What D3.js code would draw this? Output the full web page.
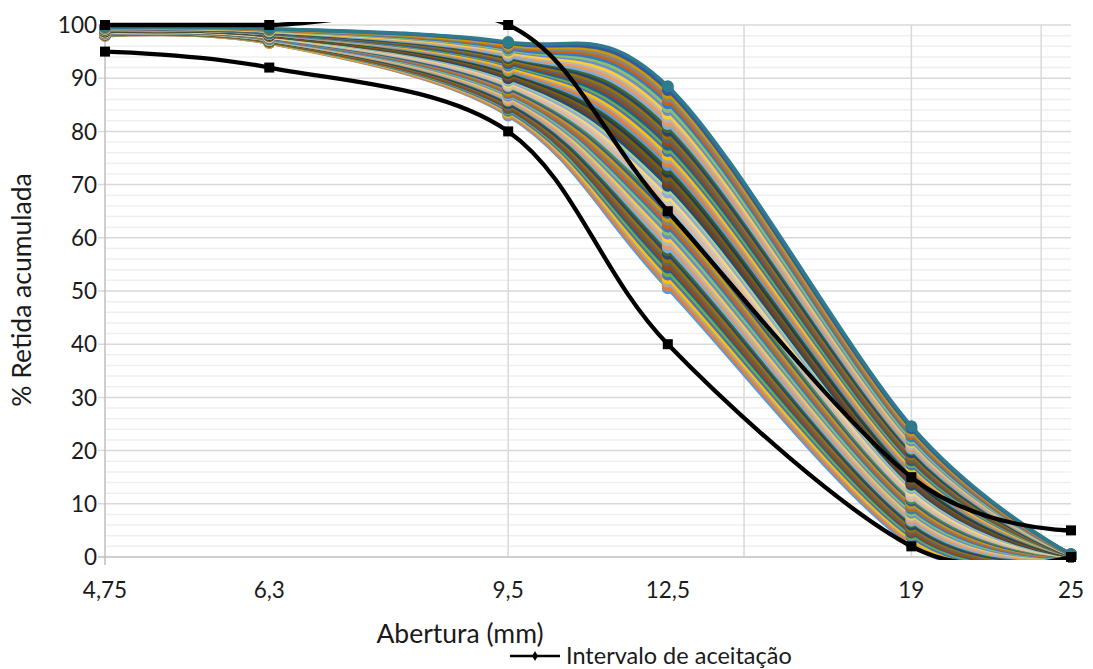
<!DOCTYPE html>
<html><head><meta charset="utf-8">
<script src="https://cdn.jsdelivr.net/npm/d3@7"></script>
<style>
html,body{margin:0;padding:0;background:#fff;}
svg{display:block;font-family:Lato,"Open Sans",sans-serif;}
</style></head>
<body><svg id="chart" width="1093" height="669"></svg>
<script>
// Sieve openings (mm) and tick labels
const sieves = [4.75, 6.3, 9.5, 12.5, 19, 25];
const xTickLabels = ["4,75", "6,3", "9,5", "12,5", "19", "25"];
const yTicks = [0,10,20,30,40,50,60,70,80,90,100];

// Acceptance interval (black curves)
const limitUpper = [100, 100, 100, 65, 15, 5];
const limitLower = [95, 92, 80, 40, 2, 0];

// Simulated gradings: % retained at each sieve, one entry per curve (low -> high)
const pass475 = [98.0,98.0,98.1,98.1,98.1,98.1,98.2,98.2,98.2,98.2,98.3,98.3,98.3,98.4,98.4,98.4,98.4,98.5,98.5,98.5,
  98.5,98.6,98.6,98.6,98.6,98.7,98.7,98.7,98.8,98.8,98.8,98.8,98.9,98.9,98.9,98.9,99.0,99.0,99.0,99.0,
  99.1,99.1,99.1,99.2,99.2,99.2,99.2,99.3,99.3,99.3,99.3,99.4,99.4,99.4,99.5,99.5,99.5,99.5,99.6,99.6];
const pass63 = [96.6,96.6,96.7,96.7,96.8,96.8,96.9,96.9,97.0,97.0,97.1,97.1,97.2,97.2,97.2,97.3,97.3,97.4,97.4,97.5,
  97.5,97.6,97.6,97.7,97.7,97.8,97.8,97.8,97.9,97.9,98.0,98.0,98.1,98.1,98.2,98.2,98.3,98.3,98.3,98.4,
  98.4,98.5,98.5,98.6,98.6,98.7,98.7,98.8,98.8,98.9,98.9,98.9,99.0,99.0,99.1,99.1,99.2,99.2,99.3,99.3];
const pass95 = [83.0,83.2,83.5,83.7,83.9,84.2,84.4,84.6,84.9,85.1,85.3,85.6,85.8,86.0,86.3,86.5,86.7,87.0,87.2,87.4,
  87.7,87.9,88.1,88.4,88.6,88.8,89.1,89.3,89.5,89.8,90.0,90.3,90.5,90.7,91.0,91.2,91.4,91.7,91.9,92.1,
  92.4,92.6,92.8,93.1,93.3,93.5,93.8,94.0,94.2,94.5,94.7,94.9,95.2,95.4,95.6,95.9,96.1,96.3,96.6,96.8];
const pass125 = [50.5,51.1,51.8,52.4,53.1,53.7,54.4,55.0,55.7,56.3,57.0,57.6,58.2,58.9,59.5,60.2,60.8,61.5,62.1,62.7,
  63.4,64.0,64.7,65.3,66.0,66.6,67.2,67.9,68.5,69.2,69.8,70.5,71.1,71.7,72.4,73.0,73.7,74.3,75.0,75.6,
  76.3,76.9,77.5,78.2,78.8,79.5,80.1,80.8,81.4,82.0,82.7,83.3,84.0,84.6,85.3,85.9,86.5,87.2,87.8,88.5];
const pass19 = [2.3,2.7,3.1,3.4,3.8,4.2,4.6,4.9,5.3,5.7,6.1,6.5,6.8,7.2,7.6,8.0,8.3,8.7,9.1,9.5,
  9.9,10.2,10.6,11.0,11.4,11.7,12.1,12.5,12.9,13.3,13.6,14.0,14.4,14.8,15.1,15.5,15.9,16.3,16.7,17.0,
  17.4,17.8,18.2,18.5,18.9,19.3,19.7,20.1,20.4,20.8,21.2,21.6,21.9,22.3,22.7,23.1,23.5,23.8,24.2,24.6];
const pass25 = [0.0,0.0,0.0,0.0,0.0,0.0,0.0,0.0,0.0,0.0,0.0,0.0,0.1,0.1,0.1,0.1,0.1,0.1,0.1,0.1,
  0.1,0.1,0.1,0.1,0.2,0.2,0.2,0.2,0.2,0.2,0.2,0.2,0.2,0.2,0.2,0.2,0.3,0.3,0.3,0.3,
  0.3,0.3,0.3,0.3,0.3,0.3,0.3,0.3,0.4,0.4,0.4,0.4,0.4,0.4,0.4,0.4,0.5,0.5,0.5,0.5];

const legendLabel = "Intervalo de aceitação";
const xTitle = "Abertura (mm)";
const yTitle = "% Retida acumulada";

// Office-like series palette
const palette = ["#5B9BD5","#ED7D31","#A5A5A5","#FFC000","#4472C4","#70AD47",
  "#255E91","#9E480E","#636363","#997300","#264478","#43682B",
  "#7CAFDD","#F1975A","#B7B7B7","#FFCD33","#698ED0","#8CC168",
  "#327DC2","#D26012","#848484","#CC9A00","#335AA1","#5A8A39",
  "#9DC3E6","#F4B183","#C9C9C9","#FFD966","#8FAADC","#A9D18E",
  "#1F4E79","#843C0C","#525252","#7F6000","#203864","#385723"];

(function () {
const cols = [pass475, pass63, pass95, pass125, pass19, pass25];
const nSeries = pass475.length;
const series = d3.range(nSeries).map(i => cols.map(c => c[i]));

const svg = d3.select("#chart");
const L = 105, R = 1071, T = 25, B = 557;
const x = d3.scaleLog().domain([4.75, 25]).range([L, R]);
const y = d3.scaleLinear().domain([0, 100]).range([B, T]);

// gridlines
const g = svg.append("g");
const minor = d3.range(2, 100, 2).filter(v => v % 10 !== 0);
g.selectAll(".hmin").data(minor).enter().append("line")
  .attr("x1", L).attr("x2", R).attr("y1", d => y(d)).attr("y2", d => y(d))
  .attr("stroke", "#efefef").attr("stroke-width", 1.5);
g.selectAll(".hmaj").data(yTicks.filter(v => v > 0)).enter().append("line")
  .attr("x1", L - 7).attr("x2", R).attr("y1", d => y(d)).attr("y2", d => y(d))
  .attr("stroke", "#d9d9d9").attr("stroke-width", 1.5);
const vgrid = [2, 3, 4, 5].map(k => 4.75 * k);
g.selectAll(".vg").data(vgrid).enter().append("line")
  .attr("x1", d => x(d)).attr("x2", d => x(d)).attr("y1", T).attr("y2", B)
  .attr("stroke", "#d9d9d9").attr("stroke-width", 1.5);

// axes lines
svg.append("line").attr("x1", L).attr("x2", L).attr("y1", T).attr("y2", B + 8)
  .attr("stroke", "#bfbfbf").attr("stroke-width", 1.5);
svg.append("line").attr("x1", L - 7).attr("x2", R).attr("y1", B).attr("y2", B)
  .attr("stroke", "#bfbfbf").attr("stroke-width", 1.5);

// tick labels
svg.append("g").selectAll("text").data(yTicks).enter().append("text")
  .attr("x", L - 8).attr("y", d => y(d)).attr("dy", "0.36em")
  .attr("text-anchor", "end").attr("font-size", 22.5).attr("fill", "#1a1a1a").text(d => d);
svg.append("g").selectAll("text").data(sieves).enter().append("text")
  .attr("x", d => x(d)).attr("y", 598)
  .attr("text-anchor", "middle").attr("font-size", 22.5).attr("fill", "#1a1a1a").text((d, i) => xTickLabels[i]);

// titles
svg.append("text").attr("x", 460).attr("y", 643).attr("text-anchor", "middle")
  .attr("font-size", 26.5).attr("fill", "#1a1a1a").text(xTitle);
svg.append("text").attr("transform", "translate(31,290) rotate(-90)").attr("text-anchor", "middle")
  .attr("font-size", 26.5).attr("fill", "#1a1a1a").text(yTitle);

// clip
svg.append("clipPath").attr("id", "plotclip").append("rect")
  .attr("x", L - 10).attr("y", T - 3).attr("width", R - L + 20).attr("height", B - T + 6);

const line = d3.line().x((d, i) => x(sieves[i])).y(d => y(d)).curve(d3.curveCardinal.tension(0));

const data = svg.append("g");
series.forEach((s, i) => {
  const col = i === nSeries - 1 ? "#2E7B8E" : palette[i % palette.length];
  const sg = data.append("g");
  sg.append("path").attr("d", line(s)).attr("fill", "none").attr("stroke", col)
    .attr("stroke-width", 3.6).attr("clip-path", "url(#plotclip)");
  sg.selectAll("circle").data(s).enter().append("circle")
    .attr("cx", (d, j) => x(sieves[j])).attr("cy", d => y(d)).attr("r", 6).attr("fill", col);
});

// acceptance limits
[limitUpper, limitLower].forEach(s => {
  const lg = svg.append("g");
  lg.append("path").attr("d", line(s)).attr("fill", "none").attr("stroke", "#000")
    .attr("stroke-width", 4.3).attr("clip-path", "url(#plotclip)");
  lg.selectAll("rect").data(s).enter().append("rect")
    .attr("x", (d, j) => x(sieves[j]) - 5).attr("y", d => y(d) - 5)
    .attr("width", 10).attr("height", 10).attr("fill", "#000");
});

// legend
const lgd = svg.append("g");
lgd.append("line").attr("x1", 510).attr("x2", 560).attr("y1", 656).attr("y2", 656)
  .attr("stroke", "#000").attr("stroke-width", 2.5);
lgd.append("path").attr("d", d3.symbol(d3.symbolDiamond, 30)()).attr("transform", "translate(535,656)").attr("fill", "#000");
lgd.append("text").attr("x", 566).attr("y", 656).attr("dy", "0.36em")
  .attr("font-size", 23.5).attr("fill", "#1a1a1a").text(legendLabel);
})();
</script></body></html>
